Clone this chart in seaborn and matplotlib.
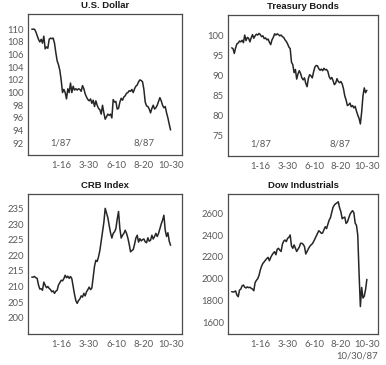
import numpy as np
import pandas as pd
import matplotlib
matplotlib.use("Agg")
import matplotlib.pyplot as plt
import seaborn as sns

# semi-weekly observations, Oct 31 1986 .. Oct 30 1987
obs_dates = pd.date_range("1986-10-31", periods=105, freq="84h")

usd = [110.0, 110.0, 110.0, 109.6, 109.0, 108.4, 108.0, 108.4, 107.8, 108.9,
       106.9, 107.2, 107.0, 108.4, 108.6, 108.5, 108.6, 107.8, 106.3, 105.0,
       104.4, 103.5, 102.0, 100.0, 100.5, 100.0, 99.0, 100.6, 100.0, 101.5,
       100.0, 101.0, 100.4, 100.6, 100.4, 100.6, 100.5, 100.2, 101.1, 100.6,
       99.8, 99.3, 98.9, 98.7, 99.0, 98.3, 98.8, 97.8, 98.7, 98.0,
       97.5, 97.3, 96.6, 98.0, 96.8, 95.8, 96.2, 96.6, 96.4, 96.6,
       96.0, 98.9, 98.5, 98.6, 97.4, 97.5, 98.5, 99.1, 98.8, 99.3,
       99.5, 99.9, 100.0, 100.3, 100.2, 100.5, 100.0, 100.6, 101.0, 101.2,
       101.7, 102.0, 101.9, 101.7, 100.5, 98.5, 97.9, 97.8, 97.4, 96.8,
       97.5, 98.0, 97.4, 97.6, 98.0, 98.6, 99.2, 98.7, 98.0, 97.6,
       97.8, 96.8, 96.0, 95.0, 94.1]

tbonds = [97.0, 96.8, 95.6, 97.0, 98.0, 98.2, 98.7, 98.5, 98.9, 98.3,
          100.2, 98.8, 99.6, 99.4, 98.5, 99.5, 100.3, 99.4, 100.0, 100.4,
          100.2, 100.6, 100.3, 99.8, 100.0, 99.3, 99.5, 99.0, 99.2, 98.4,
          97.8, 99.0, 99.6, 100.5, 100.2, 100.5, 100.3, 100.0, 100.2, 99.8,
          99.6, 99.0, 98.6, 98.0, 97.2, 96.8, 93.4, 92.8, 90.8, 91.6,
          89.2, 90.5, 91.3, 90.6, 89.5, 89.0, 89.5, 88.1, 87.3, 89.4,
          90.3, 90.0, 89.5, 91.0, 92.2, 92.6, 92.5, 91.8, 91.4, 91.7,
          91.3, 91.9, 91.5, 91.6, 91.1, 89.8, 89.2, 89.6, 88.8, 87.8,
          88.2, 89.3, 88.6, 88.3, 88.6, 88.0, 86.8, 85.0, 84.0, 82.6,
          82.8, 83.2, 82.3, 82.6, 82.0, 82.4, 81.2, 80.2, 79.4, 78.0,
          81.0, 85.0, 87.0, 85.8, 86.4]

crb = [213.0, 213.0, 213.2, 212.8, 212.6, 210.5, 209.2, 209.3, 208.8, 211.4,
       210.4, 209.6, 210.0, 209.4, 209.0, 208.3, 208.6, 207.8, 208.5, 208.8,
       210.5, 211.2, 212.0, 211.8, 212.5, 213.6, 212.8, 213.3, 212.6, 213.2,
       212.5, 210.0, 207.5, 205.5, 204.6, 205.5, 206.0, 207.0, 206.6, 207.8,
       207.0, 208.3, 209.0, 209.8, 209.0, 209.5, 213.0, 216.5, 218.4, 218.0,
       219.5, 221.5, 224.5, 227.5, 230.5, 235.0, 233.5, 232.0, 229.5, 227.2,
       225.5, 227.0, 227.5, 228.5, 231.5, 234.0, 228.5, 225.5, 226.4, 227.0,
       228.0, 227.0, 225.5, 223.5, 221.1, 221.5, 221.8, 223.5, 225.5, 226.4,
       224.2, 225.3, 224.6, 225.0, 225.2, 224.3, 224.0, 225.6, 224.5, 224.8,
       226.4, 225.2, 226.0, 227.0, 226.0, 227.0, 228.5, 230.0, 231.2, 232.8,
       228.0, 226.0, 227.2, 224.5, 223.2]

dow = [1881, 1878, 1880, 1888, 1850, 1835, 1895, 1905, 1935, 1942,
       1922, 1915, 1925, 1918, 1922, 1912, 1905, 1890, 1965, 1985,
       2000, 2030, 2080, 2115, 2141, 2155, 2171, 2185, 2196, 2165,
       2195, 2217, 2235, 2248, 2220, 2270, 2279, 2262, 2250, 2315,
       2345, 2355, 2340, 2370, 2380, 2401, 2300, 2279, 2310, 2280,
       2250, 2270, 2290, 2325, 2325, 2315, 2295, 2227, 2250, 2275,
       2295, 2310, 2320, 2340, 2365, 2390, 2416, 2440, 2430, 2416,
       2420, 2450, 2477, 2460, 2500, 2538, 2560, 2610, 2655, 2676,
       2688, 2695, 2706, 2650, 2615, 2550, 2560, 2565, 2507, 2520,
       2555, 2590, 2610, 2624, 2605, 2510, 2490, 2400, 2050, 1745,
       1920, 1823, 1840, 1900, 1994]

titles = ["U.S. Dollar", "Treasury Bonds", "CRB Index", "Dow Industrials"]
tick_dates = ["1987-01-16", "1987-03-30", "1987-06-10", "1987-08-20", "1987-10-30"]
tick_labels = ["1-16", "3-30", "6-10", "8-20", "10-30"]
yticks = [list(range(92, 111, 2)), list(range(75, 101, 5)),
          list(range(200, 236, 5)), list(range(1600, 2601, 200))]
ylims = [(90.15, 112.4), (70.0, 105.2), (194.8, 239.6), (1493, 2777)]

sns.set_style("white")
plt.rcParams["font.family"] = ["Liberation Sans", "DejaVu Sans"]

fig = plt.figure(figsize=(3.86, 3.65), dpi=100)
W, H = 386, 365
boxes = [(28, 14, 182, 155), (228, 15, 378, 156), (28, 194, 182, 334), (228, 194, 378, 334)]
series = [usd, tbonds, crb, dow]

line_col = "#262626"
txt_col = "#5a5a5a"
spine_col = "#4a4a4a"

for i, (box, vals) in enumerate(zip(boxes, series)):
    x0, y0, x1, y1 = box
    ax = fig.add_axes([x0 / W, 1 - y1 / H, (x1 - x0) / W, (y1 - y0) / H])
    df = pd.DataFrame({"date": obs_dates, "value": vals})
    sns.lineplot(data=df, x="date", y="value", ax=ax, color=line_col, linewidth=1.1)
    ax.set_xlim(pd.Timestamp("1986-10-21"), pd.Timestamp("1987-11-29"))
    ax.set_ylim(*ylims[i])
    ax.set_xticks(pd.to_datetime(tick_dates))
    ax.set_xticklabels(tick_labels)
    ax.set_yticks(yticks[i])
    ax.set_yticklabels([str(v) for v in yticks[i]])
    ax.set_xlabel("")
    ax.set_ylabel("")
    ax.tick_params(axis="both", direction="in", length=3.5, width=0.9, color=spine_col,
                   labelsize=6.8, labelcolor=txt_col, pad=3)
    ax.tick_params(axis="x", pad=4.5)
    for lab in ax.get_xticklabels() + ax.get_yticklabels():
        lab.set_family(["Lato", "DejaVu Sans"])
    for s in ax.spines.values():
        s.set_visible(True)
        s.set_color(spine_col)
        s.set_linewidth(0.9)
    ax.set_title(titles[i], fontsize=6.8, fontweight="bold", color="#1a1a1a", pad=4.5)
    if i < 2:
        ylab = ylims[i][0] + (ylims[i][1] - ylims[i][0]) * 0.085
        for d, t in zip(["1987-01-16", "1987-08-20"], ["1/87", "8/87"]):
            ax.text(pd.Timestamp(d), ylab, t, ha="center", va="center",
                    fontsize=6.8, color=txt_col, family=["Lato", "DejaVu Sans"])
    if i == 3:
        ax.text(1.0, -0.16, "10/30/87", transform=ax.transAxes, ha="right", va="center",
                fontsize=6.8, color=txt_col, family=["Lato", "DejaVu Sans"])

fig.savefig("out.png", dpi=100)
